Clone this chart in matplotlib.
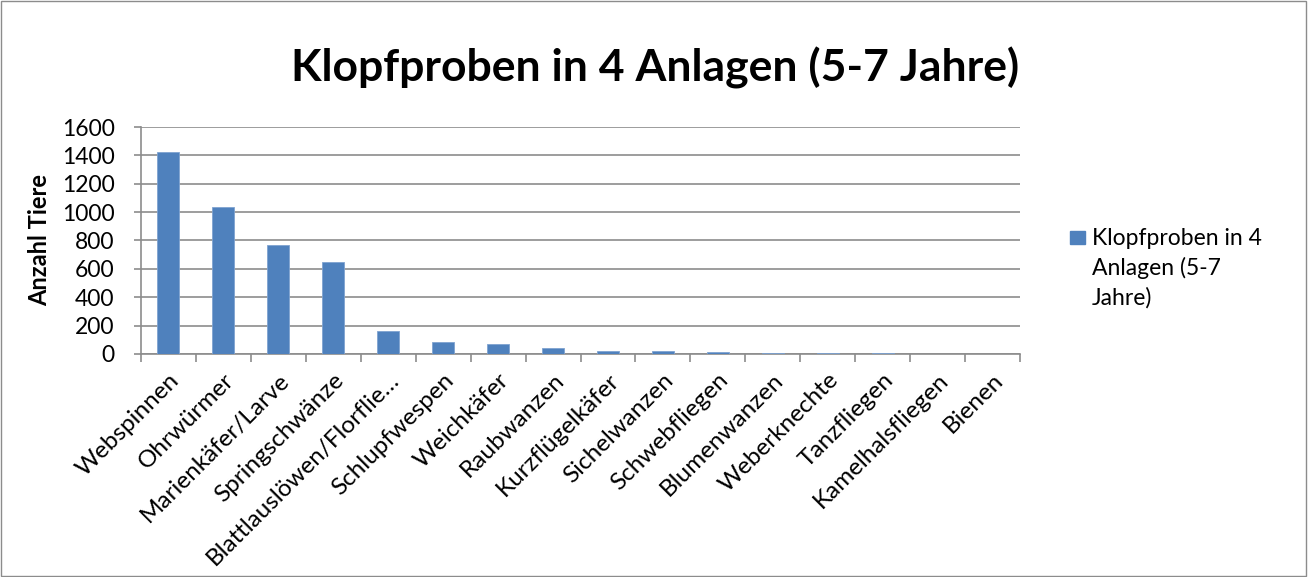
import matplotlib.pyplot as plt
import numpy as np

kategorien = ['Webspinnen', 'Ohrwürmer', 'Marienkäfer/Larve', 'Springschwänze',
              'Blattlauslöwen/Florflie…', 'Schlupfwespen', 'Weichkäfer', 'Raubwanzen',
              'Kurzflügelkäfer', 'Sichelwanzen', 'Schwebfliegen', 'Blumenwanzen',
              'Weberknechte', 'Tanzfliegen', 'Kamelhalsfliegen', 'Bienen']
anzahl = [1424, 1035, 767, 645, 160, 87, 72, 42, 19, 19, 12, 10, 5, 4, 0, 0]
serie = 'Klopfproben in 4\nAnlagen (5-7\nJahre)'
titel = 'Klopfproben in 4 Anlagen (5-7 Jahre)'

plt.rcParams['font.family'] = ['Lato', 'DejaVu Sans']
farbe = '#4F81BD'
grau = '#8c8c8c'

fig = plt.figure(figsize=(13.09, 5.77), dpi=100)
ax = fig.add_axes([141/1309, 1-354/577, 879/1309, 227/577])

x = np.arange(len(kategorien))
ax.bar(x, anzahl, width=0.4, color=farbe, edgecolor='#7FA3D0', linewidth=0.6, zorder=3)

ax.set_xlim(-0.5, len(kategorien) - 0.5)
ax.set_ylim(0, 1600)
ax.set_yticks(range(0, 1601, 200))
ax.yaxis.grid(True, color=grau, linewidth=1.2, zorder=0)

ax.set_xticks(x)
ax.set_xticklabels(kategorien, rotation=45, ha='right', rotation_mode='anchor', fontsize=17.5)
ax.set_xticks(np.arange(-0.5, len(kategorien)), minor=True)
ax.tick_params(axis='x', which='major', length=0, pad=11)
ax.tick_params(axis='x', which='minor', length=6, color=grau, width=1.2)
ax.tick_params(axis='y', length=5, color=grau, width=1.2, labelsize=16.5, pad=14)

for s in ['top', 'right']:
    ax.spines[s].set_visible(False)
for s in ['left', 'bottom']:
    ax.spines[s].set_color(grau)
    ax.spines[s].set_linewidth(1.2)

ax.set_ylabel('Anzahl Tiere', fontsize=17, fontweight='bold', va='center')
ax.yaxis.set_label_coords(-0.115, 0.5)

fig.text(655/1309, 1-68/577, titel, ha='center', va='center', fontsize=32, fontweight='bold')

# Legende von Hand, Kästchen auf Höhe der ersten Zeile
fig.patches.append(plt.Rectangle((1070/1309, 1-244/577), 15/1309, 13/577,
                                 transform=fig.transFigure, color=farbe))
fig.text(1092/1309, 1-228/577, serie, ha='left', va='top', fontsize=16.5, linespacing=1.45)

fig.patches.append(plt.Rectangle((0.001, 0.002), 0.997, 0.996, transform=fig.transFigure,
                                 fill=False, edgecolor=grau, linewidth=1))

fig.savefig('out.png', dpi=100)
